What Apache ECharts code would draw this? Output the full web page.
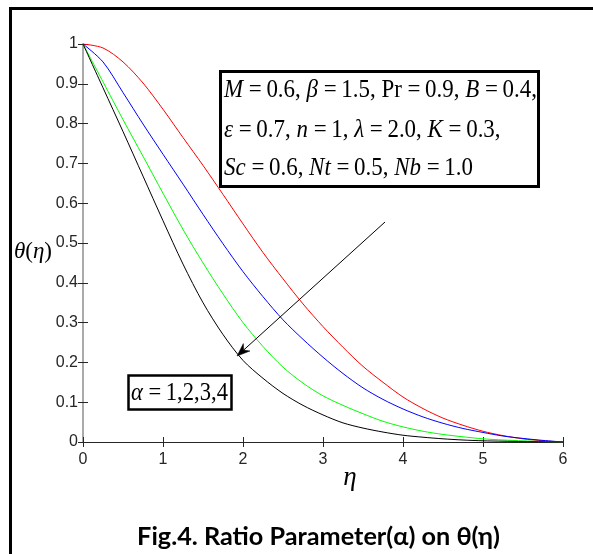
<!DOCTYPE html>
<html>
<head>
<meta charset="utf-8">
<script src="https://cdn.jsdelivr.net/npm/echarts@6/dist/echarts.min.js"></script>
<style>
  html, body { margin: 0; padding: 0; background: #ffffff; }
  #chart { width: 593px; height: 554px; }
</style>
</head>
<body>
<div id="chart"></div>
<script>
// Similarity variable eta and temperature profiles theta(eta) for alpha = 1, 2, 3, 4
const eta = [0, 0.25, 0.5, 0.75, 1, 1.25, 1.5, 1.75, 2, 2.25, 2.5, 2.75, 3,
             3.25, 3.5, 3.75, 4, 4.25, 4.5, 4.75, 5, 5.25, 5.5, 5.75, 6];

const thetaAlpha1 = [1, 0.99, 0.955, 0.902, 0.836, 0.765, 0.695, 0.622, 0.548, 0.476, 0.410, 0.347, 0.290,
                     0.238, 0.190, 0.150, 0.113, 0.084, 0.060, 0.042, 0.027, 0.016, 0.008, 0.003, 0];
const thetaAlpha2 = [1, 0.955, 0.878, 0.799, 0.723, 0.648, 0.572, 0.498, 0.428, 0.365, 0.307, 0.258, 0.213,
                     0.172, 0.136, 0.107, 0.083, 0.063, 0.047, 0.034, 0.024, 0.015, 0.009, 0.004, 0];
const thetaAlpha3 = [1, 0.905, 0.81, 0.718, 0.625, 0.534, 0.450, 0.372, 0.300, 0.240, 0.188, 0.148, 0.116,
                     0.092, 0.071, 0.052, 0.038, 0.027, 0.019, 0.013, 0.008, 0.005, 0.003, 0.001, 0];
const thetaAlpha4 = [1, 0.89, 0.78, 0.668, 0.556, 0.447, 0.350, 0.270, 0.205, 0.160, 0.122, 0.092, 0.068,
                     0.048, 0.035, 0.025, 0.017, 0.012, 0.008, 0.005, 0.003, 0.002, 0.001, 0.0005, 0];

const xTickLabels = ['0', '1', '2', '3', '4', '5', '6'];
const yTickLabels = ['0', '0.1', '0.2', '0.3', '0.4', '0.5', '0.6', '0.7', '0.8', '0.9', '1'];

const seriesColors = ['#ff0000', '#0000ff', '#00ff00', '#000000'];
const seriesNames = ['α = 1', 'α = 2', 'α = 3', 'α = 4'];
const seriesData = [thetaAlpha1, thetaAlpha2, thetaAlpha3, thetaAlpha4];

// Parameter annotation, one array of [text, italic?] pieces per line
const T = '\u2009'; // thin space after the equals sign
const paramLine1 = [['M', true], [' =' + T + '0.6, ', false], ['β', true], [' =' + T + '1.5, Pr =' + T + '0.9, ', false], ['B', true], [' =' + T + '0.4,', false]];
const paramLine2 = [['ε', true], [' =' + T + '0.7, ', false], ['n', true], [' =' + T + '1, ', false], ['λ', true], [' =' + T + '2.0, ', false], ['K', true], [' =' + T + '0.3,', false]];
const paramLine3 = [['Sc', true], [' =' + T + '0.6, ', false], ['Nt', true], [' =' + T + '0.5, ', false], ['Nb', true], [' =' + T + '1.0', false]];
const alphaLabel = [['α', true], [' =' + T + '1,2,3,4', false]];
const captionText = 'Fig.4. Ratio Parameter(α) on θ(η)';

const tickFont = { fontFamily: 'Liberation Sans', fontSize: 16, color: '#262626' };
const serif = 'Liberation Serif';
const eqSize = 25;

const measureCtx = document.createElement('canvas').getContext('2d');
function pieceWidth(pieces, size) {
  let w = 0;
  pieces.forEach(([t, ital]) => {
    measureCtx.font = (ital ? 'italic ' : '') + size + 'px "' + serif + '"';
    w += measureCtx.measureText(t).width;
  });
  return w;
}
function richText(pieces) {
  return pieces.map(([t, ital]) => '{' + (ital ? 'i' : 'u') + '|' + t + '}').join('');
}
const richStyles = size => ({
  i: { fontFamily: serif, fontStyle: 'italic', fontSize: size, fill: '#000' },
  u: { fontFamily: serif, fontSize: size, fill: '#000' }
});

const eqScale = 313 / pieceWidth(paramLine1, eqSize);
const alphaScale = 97 / pieceWidth(alphaLabel, eqSize);
measureCtx.font = 'bold 25px Lato';
const captionSize = 25 * 363 / measureCtx.measureText(captionText).width;

function pairs(ys) { return eta.map((x, i) => [x, ys[i]]); }

const chart = echarts.init(document.getElementById('chart'), null, { renderer: 'canvas' });

chart.setOption({
  animation: false,
  backgroundColor: '#ffffff',
  grid: { left: 83, right: 30, top: 44, bottom: 112, containLabel: false },
  xAxis: [
    {
      type: 'value', position: 'bottom', min: 0, max: 6, interval: 1,
      axisLine: { show: true, lineStyle: { color: '#262626', width: 1 } },
      axisTick: { show: true, inside: true, length: 5, lineStyle: { color: '#262626' } },
      axisLabel: Object.assign({ margin: 10, formatter: v => xTickLabels[Math.round(v)] }, tickFont),
      splitLine: { show: false }
    },
    {
      type: 'value', position: 'top', min: 0, max: 6, interval: 1,
      axisLine: { show: true, lineStyle: { color: '#262626', width: 1 } },
      axisTick: { show: true, inside: true, length: 5, lineStyle: { color: '#262626' } },
      axisLabel: { show: false },
      splitLine: { show: false }
    }
  ],
  yAxis: [
    {
      type: 'value', position: 'left', min: 0, max: 1, interval: 0.1,
      axisLine: { show: true, lineStyle: { color: '#7a7a7a', width: 1 } },
      axisTick: { show: true, inside: true, length: 5, lineStyle: { color: '#262626' } },
      axisLabel: Object.assign({ margin: 5, formatter: v => yTickLabels[Math.round(v * 10)] }, tickFont),
      splitLine: { show: false }
    },
    {
      type: 'value', position: 'right', min: 0, max: 1, interval: 0.1,
      axisLine: { show: true, lineStyle: { color: '#aaaaaa', width: 2 } },
      axisTick: { show: true, inside: true, length: 5, lineStyle: { color: '#262626' } },
      axisLabel: { show: false },
      splitLine: { show: false }
    }
  ],
  series: seriesData.map((ys, i) => ({
    name: seriesNames[i],
    type: 'line',
    data: pairs(ys),
    xAxisIndex: 0, yAxisIndex: 0,
    smooth: 0.3,
    showSymbol: false,
    lineStyle: { color: seriesColors[i], width: 1 },
    z: 3
  })),
  graphic: [
    // outer frame of the figure
    { type: 'rect', shape: { x: 10.5, y: 8.5, width: 620, height: 620 },
      style: { fill: 'none', stroke: '#000', lineWidth: 3 }, z: 10 },
    // axis names
    { type: 'text', x: 33, y: 252, z: 10,
      style: { text: '{i|θ}{u|(}{i|η}{u|)}', align: 'center', verticalAlign: 'middle', rich: richStyles(23) } },
    { type: 'text', x: 350, y: 478, z: 10,
      style: { text: 'η', align: 'center', verticalAlign: 'middle',
        fontFamily: serif, fontStyle: 'italic', fontSize: 27, fill: '#000' } },
    // parameter box
    { type: 'rect', shape: { x: 220.5, y: 71.5, width: 318, height: 115 },
      style: { fill: '#fff', stroke: '#000', lineWidth: 3 }, z: 10 },
    { type: 'text', x: 224, y: 90, scaleX: eqScale, z: 11,
      style: { text: richText(paramLine1), verticalAlign: 'middle', rich: richStyles(eqSize) } },
    { type: 'text', x: 224, y: 130, scaleX: eqScale, z: 11,
      style: { text: richText(paramLine2), verticalAlign: 'middle', rich: richStyles(eqSize) } },
    { type: 'text', x: 224, y: 168, scaleX: eqScale, z: 11,
      style: { text: richText(paramLine3), verticalAlign: 'middle', rich: richStyles(eqSize) } },
    // alpha label box
    { type: 'rect', shape: { x: 128.5, y: 375.5, width: 103, height: 34 },
      style: { fill: '#fff', stroke: '#000', lineWidth: 2.5 }, z: 10 },
    { type: 'text', x: 131, y: 393, scaleX: alphaScale, z: 11,
      style: { text: richText(alphaLabel), verticalAlign: 'middle', rich: richStyles(eqSize) } },
    // arrow showing increasing alpha
    { type: 'line', shape: { x1: 385, y1: 222, x2: 243.7, y2: 350 },
      style: { stroke: '#000', lineWidth: 1 }, z: 10 },
    { type: 'polygon', shape: { points: [[237, 356], [250, 351], [243.7, 350], [243.3, 343.6]] },
      style: { fill: '#000', stroke: '#000', lineWidth: 0.5 }, z: 10 },
    // caption
    { type: 'text', x: 318.5, y: 537, z: 10,
      style: { text: captionText, align: 'center', verticalAlign: 'middle',
        fontFamily: 'Lato', fontWeight: 'bold', fontSize: captionSize, fill: '#000' } }
  ]
});
</script>
</body>
</html>
